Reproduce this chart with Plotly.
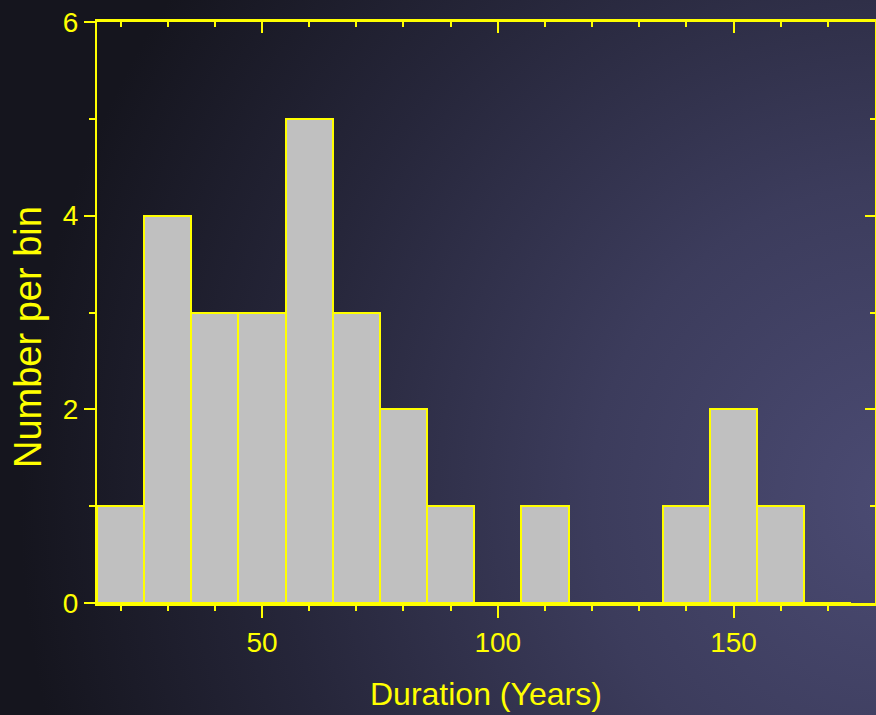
import base64
import plotly.graph_objects as go

# ---- data ----
bin_centers = [20, 30, 40, 50, 60, 70, 80, 90, 100, 110, 120, 130, 140, 150, 160, 170]
counts = [1, 4, 3, 3, 5, 3, 2, 1, 0, 1, 0, 0, 1, 2, 1, 0]
bin_width = 10
x_tick_vals = [50, 100, 150]
x_tick_text = ["50", "100", "150"]
x_minor_vals = [20, 30, 40, 60, 70, 80, 90, 110, 120, 130, 140, 160, 170]
y_tick_vals = [0, 2, 4, 6]
y_tick_text = ["0", "2", "4", "6"]
y_minor_vals = [1, 3, 5]
x_title = "Duration (Years)"
y_title = "Number per bin"

W, H = 876, 715
YEL = "#ffff00"
FONT = "Liberation Sans, Arial, sans-serif"

# ---- background gradient (SVG data URI) ----
svg = f'''<svg xmlns="http://www.w3.org/2000/svg" width="{W}" height="{H}" viewBox="0 0 {W} {H}" preserveAspectRatio="none">
<defs>
<radialGradient id="g" gradientUnits="userSpaceOnUse" cx="0" cy="0" r="1" gradientTransform="translate(900,500) scale(880,900)">
<stop offset="0" stop-color="#4b4b73"/>
<stop offset="0.35" stop-color="#3c3c5c"/>
<stop offset="0.7" stop-color="#26263a"/>
<stop offset="1" stop-color="#15151e"/>
</radialGradient>
</defs>
<rect x="0" y="0" width="{W}" height="{H}" fill="url(#g)"/>
</svg>'''
bg_uri = "data:image/svg+xml;base64," + base64.b64encode(svg.encode()).decode()

fig = go.Figure()
fig.add_trace(go.Bar(
    x=bin_centers, y=counts, width=bin_width,
    marker=dict(color="#c0c0c0", line=dict(color=YEL, width=2)),
    xaxis="x", yaxis="y", showlegend=False, hoverinfo="x+y",
))
fig.add_trace(go.Scatter(x=[None], y=[None], xaxis="x2", yaxis="y2",
                         showlegend=False, hoverinfo="skip"))

xdom = [97 / W, 875 / W]
ydom = [(H - 603) / H, (H - 22) / H]
xr = [15, 180]
yr = [0, 6]

tickfont = dict(family=FONT, size=28, color=YEL)

fig.update_layout(
    width=W, height=H, autosize=False,
    margin=dict(l=0, r=0, t=0, b=0, pad=0, autoexpand=False),
    paper_bgcolor="#16161f",
    plot_bgcolor="rgba(0,0,0,0)",
    bargap=0,
    images=[dict(source=bg_uri, xref="paper", yref="paper", x=0, y=1,
                 sizex=1, sizey=1, xanchor="left", yanchor="top",
                 sizing="stretch", layer="below")],
    xaxis=dict(
        domain=xdom, range=xr, anchor="y", automargin=False,
        tickmode="array", tickvals=x_tick_vals, ticktext=x_tick_text,
        ticks="outside", ticklen=12, tickwidth=2, tickcolor=YEL,
        showline=True, linecolor=YEL, linewidth=3,
        showgrid=False, zeroline=False, tickfont=tickfont,
        ticklabelstandoff=0,
        minor=dict(tickmode="array", tickvals=x_minor_vals, ticks="outside",
                   ticklen=5, tickwidth=2, tickcolor=YEL, showgrid=False),
    ),
    yaxis=dict(
        domain=ydom, range=yr, anchor="x", automargin=False,
        tickmode="array", tickvals=y_tick_vals, ticktext=y_tick_text,
        ticks="outside", ticklen=11, tickwidth=2, tickcolor=YEL,
        showline=True, linecolor=YEL, linewidth=2,
        showgrid=False, zeroline=False, tickfont=tickfont,
        minor=dict(tickmode="array", tickvals=y_minor_vals, ticks="outside",
                   ticklen=6, tickwidth=2, tickcolor=YEL, showgrid=False),
    ),
    xaxis2=dict(
        overlaying="x", side="top", anchor="y", range=xr, automargin=False,
        tickmode="array", tickvals=x_tick_vals, showticklabels=False,
        ticks="inside", ticklen=11, tickwidth=2, tickcolor=YEL,
        showline=True, linecolor=YEL, linewidth=3,
        showgrid=False, zeroline=False,
        minor=dict(tickmode="array", tickvals=x_minor_vals, ticks="inside",
                   ticklen=5, tickwidth=2, tickcolor=YEL, showgrid=False),
    ),
    yaxis2=dict(
        overlaying="y", side="right", anchor="x", range=yr, automargin=False,
        tickmode="array", tickvals=y_tick_vals, showticklabels=False,
        ticks="inside", ticklen=10, tickwidth=2, tickcolor=YEL,
        showline=True, linecolor=YEL, linewidth=2,
        showgrid=False, zeroline=False,
        minor=dict(tickmode="array", tickvals=y_minor_vals, ticks="inside",
                   ticklen=5, tickwidth=2, tickcolor=YEL, showgrid=False),
    ),
    annotations=[
        dict(text=x_title, xref="paper", yref="paper",
             x=486 / W, y=(H - 694) / H, xanchor="center", yanchor="middle",
             showarrow=False, font=dict(family=FONT, size=32, color=YEL)),
        dict(text=y_title, xref="paper", yref="paper", textangle=-90,
             x=28 / W, y=(H - 337) / H, xanchor="center", yanchor="middle",
             showarrow=False, font=dict(family=FONT, size=38, color=YEL)),
    ],
)

fig.write_html(
    "out.html",
    config={"displayModeBar": False},
    post_script="document.body.style.margin='0';document.body.style.padding='0';"
                "document.documentElement.style.overflow='hidden';",
)
